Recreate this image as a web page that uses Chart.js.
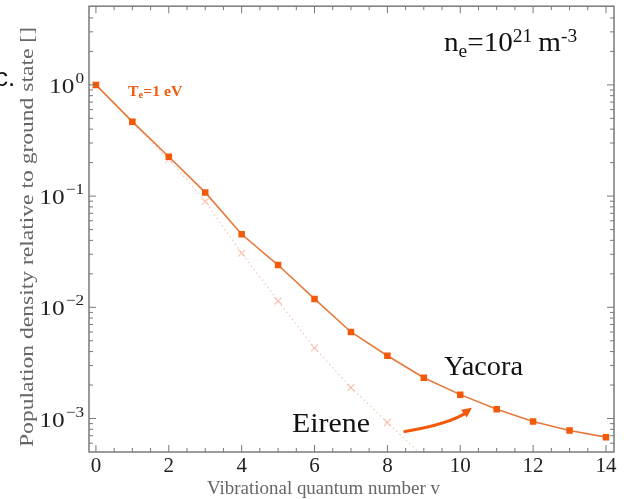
<!DOCTYPE html>
<html><head><meta charset="utf-8">
<script src="https://cdn.jsdelivr.net/npm/chart.js@4.4.1/dist/chart.umd.min.js"></script>
<style>html,body{margin:0;padding:0;background:#fff;}#wrap{width:624px;height:499px;position:relative;}</style>
</head><body><div id="wrap"><canvas id="c" width="624" height="499"></canvas></div>
<script>
const levels = [0,1,2,3,4,5,6,7,8,9,10,11,12,13,14];
const yacora = [1.0,0.467,0.226,0.108,0.0454,0.024,0.0119,0.0060,0.00367,0.00233,0.00164,0.00121,0.00094,0.00078,0.00068];
const eireneLevels = [0,1,2,3,4,5,6,7,8,9];
const eirene = [1.0,0.46,0.215,0.0897,0.0307,0.0114,0.00432,0.0019,0.00092,0.00045];
const xTicks = [0,2,4,6,8,10,12,14];
const yDecades = [0,-1,-2,-3];

const SERIF = '"Liberation Serif","DejaVu Serif",serif';
const ORANGE = '#f25a0a';
const LINE = '#e8783a';
const LIGHT = 'rgba(244,150,120,0.55)';

function stretch(ctx, text, x, y, sx){
  ctx.save(); ctx.translate(x, y); ctx.scale(sx, 1); ctx.fillText(text, 0, 0); ctx.restore();
  return ctx.measureText(text).width * sx;
}

const annot = {
  id:'annot',
  afterDraw(chart){
    const ctx = chart.ctx, xs = chart.scales.x, ys = chart.scales.y, a = chart.chartArea;
    ctx.save();
    ctx.strokeStyle = '#7a7a7a'; ctx.lineWidth = 1.5;
    ctx.strokeRect(a.left, a.top, a.right-a.left, a.bottom-a.top);
    ctx.lineWidth = 1; ctx.strokeStyle = '#777';
    for (let v = -0.5; v <= 14.5; v += 0.5) {
      const px = xs.getPixelForValue(v);
      if (px < a.left+1 || px > a.right-1) continue;
      const major = Math.abs(v % 2) < 1e-9;
      const L = major ? 7 : 4;
      ctx.beginPath(); ctx.moveTo(px, a.bottom); ctx.lineTo(px, a.bottom-L);
      ctx.moveTo(px, a.top); ctx.lineTo(px, a.top+L); ctx.stroke();
    }
    for (let d = -4; d <= 0; d++) {
      for (let m = 1; m <= 9; m++) {
        const py = ys.getPixelForValue(m*Math.pow(10,d));
        if (py < a.top+1 || py > a.bottom-1) continue;
        const L = m===1 ? 7 : 4;
        ctx.beginPath(); ctx.moveTo(a.left, py); ctx.lineTo(a.left+L, py);
        ctx.moveTo(a.right, py); ctx.lineTo(a.right-L, py); ctx.stroke();
      }
    }
    // x tick labels
    ctx.fillStyle = '#222'; ctx.textAlign = 'center'; ctx.textBaseline = 'alphabetic';
    ctx.font = '21px '+SERIF;
    xTicks.forEach(t => ctx.fillText(String(t), xs.getPixelForValue(t), 472));
    // y tick labels
    yDecades.forEach(d => {
      const py = ys.getPixelForValue(Math.pow(10,d));
      ctx.textAlign = 'left';
      ctx.font = '15px '+SERIF;
      const sup = d===0 ? '0' : '\u2212'+(-d);
      const sw = ctx.measureText(sup).width * 1.15;
      const right = 84;
      stretch(ctx, sup, right - sw, py - 2, 1.15);
      ctx.font = '22px '+SERIF;
      const w10 = ctx.measureText('10').width * 1.15;
      stretch(ctx, '10', right - sw - 1 - w10, py + 8, 1.15);
    });
    // axis titles
    ctx.fillStyle = '#666'; ctx.textAlign = 'left';
    ctx.font = '19px '+SERIF;
    let t = 'Vibrational quantum number v';
    let w = ctx.measureText(t).width, sx = 233 / w;
    stretch(ctx, t, 207, 494, sx);
    t = 'Population density relative to ground state []';
    w = ctx.measureText(t).width; sx = 420 / w;
    ctx.save(); ctx.translate(33, 447); ctx.rotate(-Math.PI/2);
    stretch(ctx, t, 0, 0, sx);
    ctx.restore();
    // n_e annotation
    ctx.fillStyle = '#111';
    let x = 444;
    const S = 1.08;
    ctx.font = '27px '+SERIF; x += stretch(ctx, 'n', x, 51, S);
    ctx.font = '18px '+SERIF; x += stretch(ctx, 'e', x, 57, S);
    ctx.font = '27px '+SERIF; x += stretch(ctx, '=10', x, 51, S);
    ctx.font = '18px '+SERIF; x += stretch(ctx, '21', x, 42, S) + 6;
    ctx.font = '27px '+SERIF; x += stretch(ctx, 'm', x, 51, S);
    ctx.font = '18px '+SERIF; stretch(ctx, '-3', x, 42, S);
    // Yacora / Eirene
    ctx.font = '27px '+SERIF;
    w = ctx.measureText('Yacora').width; stretch(ctx, 'Yacora', 444, 375, 79 / w);
    w = ctx.measureText('Eirene').width; stretch(ctx, 'Eirene', 292, 432, 78 / w);
    // Te label
    ctx.fillStyle = ORANGE;
    x = 128;
    ctx.font = 'bold 15px '+SERIF; x += stretch(ctx, 'T', x, 96, 1.05);
    ctx.font = 'bold 10px '+SERIF; x += stretch(ctx, 'e', x, 98, 1.05);
    ctx.font = 'bold 15px '+SERIF; stretch(ctx, '=1 eV', x, 96, 1.05);
    // c. label
    ctx.fillStyle = '#111'; ctx.font = '26px "Liberation Sans",sans-serif';
    ctx.fillText('c.', -5, 86);
    // arrow
    const p0 = [xs.getPixelForValue(8.48), ys.getPixelForValue(7.65e-4)];
    const pc = [xs.getPixelForValue(9.7), ys.getPixelForValue(8.9e-4)];
    const p1 = [xs.getPixelForValue(10.32), ys.getPixelForValue(1.25e-3)];
    ctx.strokeStyle = ORANGE; ctx.lineWidth = 3.2; ctx.lineCap = 'round';
    ctx.beginPath(); ctx.moveTo(p0[0], p0[1]); ctx.quadraticCurveTo(pc[0], pc[1], p1[0]-4, p1[1]+4); ctx.stroke();
    const ang = Math.atan2(p1[1]-pc[1], p1[0]-pc[0]);
    ctx.fillStyle = ORANGE; ctx.beginPath();
    ctx.moveTo(p1[0], p1[1]);
    ctx.lineTo(p1[0]-11*Math.cos(ang-0.45), p1[1]-11*Math.sin(ang-0.45));
    ctx.lineTo(p1[0]-11*Math.cos(ang+0.45), p1[1]-11*Math.sin(ang+0.45));
    ctx.closePath(); ctx.fill();
    ctx.restore();
  }
};

new Chart(document.getElementById('c'), {
  type:'scatter',
  data:{datasets:[
    {label:'Eirene', data: eireneLevels.map((v,i)=>({x:v,y:eirene[i]})), showLine:true,
     borderColor:LIGHT, borderWidth:1.2, borderDash:[1.5,3], pointStyle:'crossRot', pointRadius:5,
     pointBorderColor:LIGHT, pointBorderWidth:1.2, pointBackgroundColor:LIGHT, order:2},
    {label:'Yacora', data: levels.map((v,i)=>({x:v,y:yacora[i]})), showLine:true,
     borderColor:LINE, borderWidth:1.6, pointStyle:'rect', pointRadius:4.6,
     pointBackgroundColor:ORANGE, pointBorderColor:ORANGE, pointBorderWidth:0, order:1}
  ]},
  options:{
    responsive:false, animation:false, devicePixelRatio:1,
    layout:{padding:{left:0,right:10,top:4,bottom:0}},
    plugins:{legend:{display:false}, tooltip:{enabled:false}},
    scales:{
      x:{type:'linear', min:-0.19, max:14.22, grid:{display:false}, border:{display:false},
         ticks:{display:false}, afterFit(s){s.height=47;}},
      y:{type:'logarithmic', min:5e-4, max:5.1, grid:{display:false}, border:{display:false},
         ticks:{display:false}, afterFit(s){s.width=89;}}
    }
  },
  plugins:[annot]
});
</script></body></html>
